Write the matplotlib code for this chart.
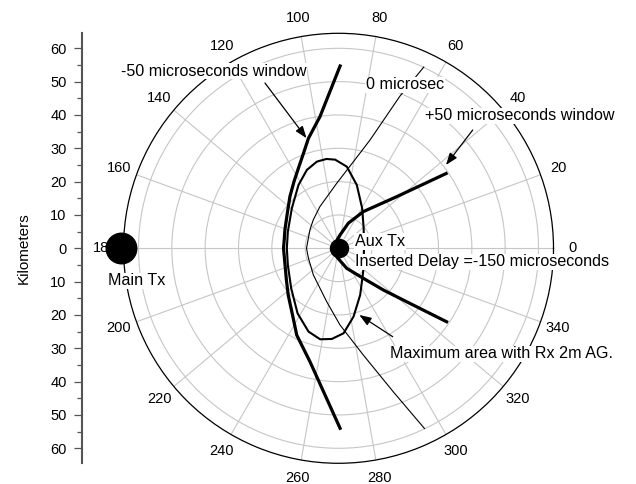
import numpy as np
import matplotlib.pyplot as plt

plt.rcParams['font.family'] = ['Liberation Sans', 'DejaVu Sans']

# traces around the auxiliary transmitter: azimuth (deg) and range (km)
minus50_az = [89.5, 98.0, 105.3, 109.9, 115.9, 123.6, 133.2, 145.7, 161.1, 170.4,
              180.0, 197.3, 211.3, 222.9, 235.4, 244.3, 255.9, 264.0, 270.5]
minus50_km = [54.7, 39.9, 34.2, 30.6, 27.2, 24.1, 21.3, 18.6, 17.0, 16.5,
              16.5, 16.8, 18.3, 20.6, 24.3, 28.9, 35.1, 43.2, 54.0]

zero_az = [64.8, 68.0, 73.8, 80.2, 91.6, 114.0, 131.7, 147.3, 180.0, 198.3,
           226.7, 257.5, 271.1, 283.1, 290.9, 295.5]
zero_km = [60.1, 49.3, 33.8, 26.4, 19.5, 13.7, 11.4, 10.2, 9.6, 9.5,
           11.0, 16.4, 23.0, 32.9, 46.1, 59.9]

plus50_az = [34.8, 41.6, 55.9, 68.6, 83.6, 125.0, 180.0, 257.9, 292.3, 309.6, 317.1, 322.8, 325.8]
plus50_km = [39.3, 23.3, 13.3, 8.1, 4.0, 1.8, 1.35, 2.6, 6.5, 11.7, 18.4, 28.2, 39.2]

# maximum coverage area, receiver 2 m above ground
area_az = [0.0, 38.5, 59.4, 73.9, 84.2, 92.2, 97.7, 104.0, 112.0, 122.3, 139.4, 161.8,
           180.0, 198.2, 220.2, 237.8, 250.2, 258.6, 265.8, 273.4, 282.4, 294.9, 316.6, 360.0]
area_km = [7.65, 9.64, 13.94, 19.78, 24.63, 26.62, 27.04, 26.8, 25.35, 22.47, 18.44, 16.0,
           15.5, 16.0, 18.59, 23.06, 26.57, 27.85, 27.27, 25.54, 20.99, 15.44, 10.19, 7.65]

main_tx = (180.0, 65.25)
aux_tx = (0.0, 0.0)

r_max = 64.5
ring_km = [10, 20, 30, 40, 50, 60]
az_labels = list(range(0, 360, 20))
km_ticks = list(range(-60, 61, 10))

fig = plt.figure(figsize=(6.36, 4.84), dpi=100)
ax = fig.add_axes([0.1942, 0.0428, 0.6761, 0.8884], projection='polar')

ax.set_ylim(0, r_max)
ax.set_yticks(ring_km)
ax.set_yticklabels([])
ax.set_xticks(np.deg2rad(az_labels))
ax.set_xticklabels([str(a) for a in az_labels])
ax.set_xticks(np.deg2rad(np.array(az_labels) + 10), minor=True)
ax.tick_params(axis='x', which='major', direction='in', length=5, width=0.8,
               pad=6.5, labelsize=10.5)
ax.tick_params(axis='x', which='minor', direction='in', length=3, width=0.8)
ax.tick_params(axis='y', length=0)
ax.grid(True, color='#c6c6c6', lw=0.8)
ax.spines['polar'].set_linewidth(0.9)

rad = np.deg2rad
ax.plot(rad(minus50_az), minus50_km, color='k', lw=2.3, zorder=2)
ax.plot(rad(plus50_az), plus50_km, color='k', lw=2.3, zorder=2)
ax.plot(rad(area_az), area_km, color='k', lw=1.5, zorder=2)
ax.plot(rad(zero_az), zero_km, color='k', lw=0.8, zorder=2)

ax.plot(rad(aux_tx[0]), aux_tx[1], 'o', color='k', ms=13, zorder=4)
ax.plot(rad(main_tx[0]), main_tx[1], 'o', color='k', ms=22, zorder=5, clip_on=False)

box = dict(facecolor='white', edgecolor='none', pad=0.5)
fs = 11.6
ax.text(0.2105, 0.9123, '-50 microseconds window', transform=ax.transAxes,
        ha='center', va='center', fontsize=fs, bbox=box, zorder=3)
ax.text(0.6547, 0.8798, '0 microsec', transform=ax.transAxes,
        ha='center', va='center', fontsize=fs, bbox=box, zorder=3)
ax.text(0.9209, 0.8077, '+50 microseconds window', transform=ax.transAxes,
        ha='center', va='center', fontsize=fs, bbox=box, zorder=3, clip_on=False)
ax.text(0.5384, 0.5158, 'Aux Tx', transform=ax.transAxes,
        ha='left', va='center', fontsize=fs, bbox=box, zorder=3)
ax.text(0.5391, 0.4688, 'Inserted Delay =-150 microseconds', transform=ax.transAxes,
        ha='left', va='center', fontsize=fs, bbox=box, zorder=3, clip_on=False)
ax.text(0.0307, 0.4240, 'Main Tx', transform=ax.transAxes,
        ha='center', va='center', fontsize=fs, bbox=box, zorder=3, clip_on=False)
ax.text(0.8802, 0.2542, 'Maximum area with Rx 2m AG.', transform=ax.transAxes,
        ha='center', va='center', fontsize=fs, bbox=box, zorder=3, clip_on=False)

arrow = dict(arrowstyle='-|>,head_length=0.6,head_width=0.22', color='k', lw=0.9,
             shrinkA=0, shrinkB=0, mutation_scale=12)
ax.annotate('', xy=(rad(106.2), 34.4), xytext=(0.329, 0.8844),
            textcoords='axes fraction', arrowprops=arrow, zorder=4)
ax.annotate('', xy=(rad(37.8), 40.8), xytext=(0.8121, 0.7751),
            textcoords='axes fraction', arrowprops=arrow, zorder=4)
ax.annotate('', xy=(rad(287.3), 20.95), xytext=(0.626, 0.2944),
            textcoords='axes fraction', arrowprops=arrow, zorder=4)

# linear distance scale on the left
kax = fig.add_axes([82 / 636, 0.0428, 0.001, 0.8884])
kax.set_ylim(-r_max, r_max)
kax.patch.set_visible(False)
for side in ['top', 'right', 'bottom']:
    kax.spines[side].set_visible(False)
kax.spines['left'].set_color('#555555')
kax.spines['left'].set_linewidth(1.5)
kax.set_xticks([])
kax.set_yticks(km_ticks)
kax.set_yticklabels([str(abs(t)) for t in km_ticks])
kax.set_yticks([t + 5 for t in km_ticks[:-1]], minor=True)
kax.tick_params(axis='y', which='major', length=6, width=0.9, pad=5, labelsize=10.5,
                color='#555555')
kax.tick_params(axis='y', which='minor', length=3.5, width=0.9, color='#555555')
kax.set_ylabel('Kilometers', fontsize=11, labelpad=14)

fig.savefig('out.png', dpi=100)
